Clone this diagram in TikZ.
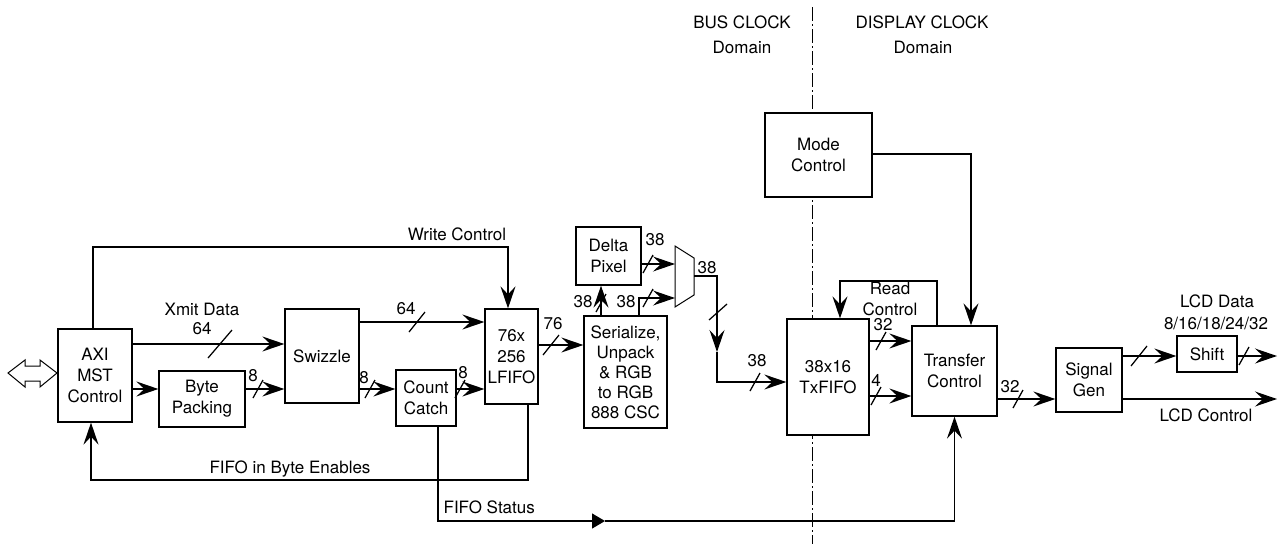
\documentclass[tikz,border=0pt]{standalone}
\usepackage{fontspec}
\setmainfont{TeX Gyre Heros}
\usetikzlibrary{arrows.meta}
\begin{document}
\begin{tikzpicture}[x=1pt,y=-1pt, line width=1.25pt,
  box/.style={draw, fill=white, inner sep=0pt, align=center, font=\fontsize{17}{21}\selectfont},
  lbl/.style={inner sep=0pt, anchor=base, font=\fontsize{17}{21}\selectfont},
  arr/.style={-{Stealth[length=22pt,width=15pt,inset=8pt]}},
  bus/.pic={\draw (-5,9) -- (5,-9);},
  busm/.pic={\draw (-8,10) -- (8,-10);},
  busl/.pic={\draw (-12,14) -- (12,-14);},
  busv/.pic={\draw (-9,8) -- (9,-8);},
  clockline/.style={dash pattern=on 14pt off 3pt on 2pt off 3pt, line width=0.9pt}
]
\useasboundingbox (0,0) rectangle (1278,544);

% clock domain boundary
\coordinate (dtop) at (812,7);
\coordinate (dbot) at (812,544);
\draw[clockline] (dtop) -- (dbot);

\node[lbl] (bus1) at (742,28) {BUS CLOCK};
\node[lbl] (bus2) at (742,53) {Domain};
\node[lbl] (dis1) at (922,28) {DISPLAY CLOCK};
\node[lbl] (dis2) at (923,53) {Domain};

% blocks
\node[box, minimum width=74pt, minimum height=93pt] (axi) at (95,375.5) {AXI\\MST\\Control};
\node[box, minimum width=86pt, minimum height=56pt] (bp) at (202,399) {Byte\\Packing};
\node[box, minimum width=74pt, minimum height=94pt] (swz) at (322,356) {Swizzle};
\node[box, minimum width=60pt, minimum height=56pt] (cc) at (426,398) {Count\\Catch};
\node[box, minimum width=53pt, minimum height=95pt] (lf) at (511.5,356.5) {76x\\256\\LFIFO};
\node[box, minimum width=65pt, minimum height=58pt] (dp) at (608.5,256) {Delta\\Pixel};
\node[box, minimum width=83pt, minimum height=112pt, font=\fontsize{17}{20}\selectfont] (ser) at (625.5,372) {Serialize,\\Unpack\\\& RGB\\to RGB\\888 CSC};
\node[box, minimum width=82pt, minimum height=116pt] (tx) at (828,377) {38x16\\TxFIFO};
\node[box, minimum width=107pt, minimum height=84pt] (mode) at (818.5,155) {Mode\\Control};
\node[box, minimum width=85pt, minimum height=90pt] (tc) at (954.5,371) {Transfer\\Control};
\node[box, minimum width=66pt, minimum height=64pt] (sg) at (1089,380) {Signal\\Gen};
\node[box, minimum width=60pt, minimum height=36pt] (sh) at (1207,354) {Shift};

% bidirectional bus arrow
\draw[line width=1pt, fill=white] (8,373) -- (25,360) -- (25,366) -- (40,366) -- (40,360) -- (57,373)
  -- (40,387) -- (40,381) -- (25,381) -- (25,387) -- cycle;

% mux
\coordinate (mi1) at (675,264);
\coordinate (mi2) at (675,298);
\coordinate (mo) at (694,276);
\draw[line width=1pt] (675,246) -- (694,258) -- (694,295) -- (675,307) -- cycle;

% connectors
\draw[arr] ([xshift=-2pt]axi.north) |- (508,247) -- (lf.north -| 508,0);
\node[lbl] (lwc) at (457,240) {Write Control};

\draw[arr] (axi.east |- 0,344) -- (swz.west |- 0,344);
\node[lbl] (lxd) at (202,315) {Xmit Data};
\node[lbl] (lxd2) at (202,334) {64};
\pic at (220,344) {busl};

\draw[arr] (axi.east |- 0,389) -- (bp.west |- 0,389);
\draw[arr] (bp.east |- 0,389) -- (swz.west |- 0,389);
\node[lbl] (l8a) at (253,381) {8};
\pic at (258,389) {bus};

\draw[arr] (swz.east |- 0,322) -- (lf.west |- 0,322);
\node[lbl] (l64) at (406,314) {64};
\pic at (417,322) {busm};

\draw[arr] (swz.east |- 0,389) -- (cc.west |- 0,389);
\node[lbl] (l8b) at (364,383) {8};
\pic at (370,389) {bus};

\draw[arr] (cc.east |- 0,389) -- (lf.west |- 0,389);
\node[lbl] (l8c) at (463,378) {8};
\pic at (460,389) {bus};

\draw[arr] (lf.east |- 0,345) -- (ser.west |- 0,345);
\node[lbl] (l76) at (553,329) {76};
\pic at (551,345) {busm};

\draw[arr] (lf.south -| 528,0) |- (91,480) -- (axi.south -| 91,0);
\node[lbl] (lfbe) at (290,473) {FIFO in Byte Enables};

\coordinate (fsm) at (605,521);
\draw[-{Triangle[length=13pt,width=15pt]}] (cc.south -| 438,0) |- (fsm);
\draw[arr] (fsm) -| (tc.south);
\node[lbl, anchor=base west] (lfs) at (443,513) {FIFO Status};

\draw[arr] (ser.north -| 601,0) -- (dp.south -| 601,0);
\node[lbl] (l38a) at (583,307) {38};
\pic at (601,303) {bus};

\draw[arr] (ser.north -| 639,0) |- (mi2);
\node[lbl] (l38b) at (626,307) {38};
\pic at (648,298) {bus};

\draw[arr] (dp.east |- mi1) -- (mi1);
\node[lbl] (l38c) at (655,245) {38};
\pic at (648,264) {bus};

\coordinate (mv) at (717,352);
\draw[arr] (mo) -| (mv);
\draw[arr] (mv) |- (tx.west |- 0,382);
\node[lbl] (l38d) at (707,273) {38};
\pic at (718,312) {busv};
\node[lbl] (l38e) at (757,366) {38};
\pic at (755,382) {bus};

\draw[arr] (mode.east |- 0,154) -| (tc.north -| 971,0);

\draw[arr] (tc.north -| 937,0) |- (840,281) -- (tx.north -| 840,0);
\node[lbl] (lrc1) at (890,294) {Read};
\node[lbl] (lrc2) at (890,315) {Control};

\draw[arr] (tx.east |- 0,341) -- (tc.west |- 0,341);
\node[lbl] (l32a) at (883,330) {32};
\pic at (881,341) {bus};
\draw[arr] (tx.east |- 0,396) -- (tc.west |- 0,396);
\node[lbl] (l4) at (876,386) {4};
\pic at (876,396) {bus};

\draw[arr] (tc.east |- 0,399) -- (sg.west |- 0,399);
\node[lbl] (l32b) at (1010,392) {32};
\pic at (1018,399) {bus};

\draw[arr] (sg.east |- 0,356) -- (sh.west |- 0,356);
\pic at (1139,356) {busm};
\node[lbl] (llcd1) at (1217,307) {LCD Data};
\node[lbl] (llcd2) at (1216,329) {8/16/18/24/32};

\coordinate (lcdd) at (1277,356);
\draw[arr] (sh.east |- lcdd) -- (lcdd);
\pic at (1244,356) {bus};

\coordinate (lcdc) at (1277,399);
\draw[arr] (sg.east |- lcdc) -- (lcdc);
\node[lbl] (llcc) at (1206,421) {LCD Control};
\end{tikzpicture}
\end{document}
